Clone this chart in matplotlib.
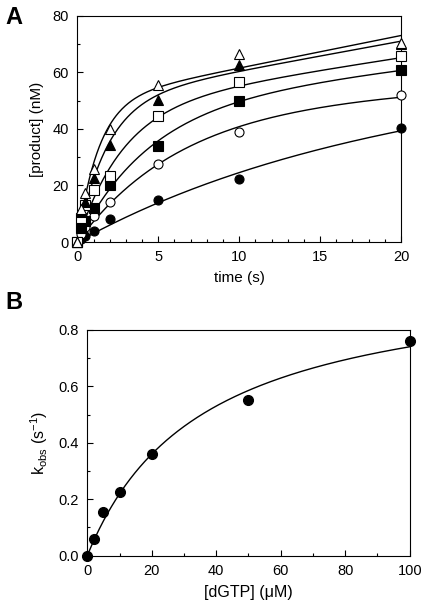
import numpy as np
import matplotlib.pyplot as plt
from matplotlib.ticker import MultipleLocator

plt.rcParams['font.family'] = ['Liberation Sans', 'DejaVu Sans']

# Panel A: product formation time courses at six dGTP concentrations
time_s = [0, 0.25, 0.5, 1, 2, 5, 10, 20]
prod_2uM = [0, 1.2, 2.2, 3.9, 8.2, 15.0, 22.3, 40.2]
prod_5uM = [0, 3.0, 5.5, 9.1, 14.1, 27.7, 39.0, 51.9]
prod_10uM = [0, 5.0, 7.5, 12.2, 20.3, 33.8, 50.0, 60.8]
prod_20uM = [0, 8.5, 13.0, 18.5, 23.5, 44.7, 56.7, 65.8]
prod_50uM = [0, 10.7, 14.2, 22.8, 34.3, 50.3, 62.5, 70.0]
prod_100uM = [0, 11.8, 17.4, 25.9, 40.0, 55.6, 66.4, 70.3]

# burst fit parameters per curve (amplitude nM, steady-state rate nM/s)
burst_amp = [48, 49, 48.2, 47.6, 50, 50]
steady_rate = [0.29, 0.22, 0.65, 0.88, 1.05, 1.15]

# Panel B: observed burst rate vs dGTP
dgtp_uM = [0, 2, 5, 10, 20, 50, 100]
kobs = [0, 0.06, 0.155, 0.225, 0.36, 0.55, 0.76]
kpol = 1.006
kd = 35.9

fig = plt.figure(figsize=(4.25, 6.16), dpi=100)
axA = fig.add_axes([0.182, 0.607, 0.7615, 0.3675])
axB = fig.add_axes([0.2054, 0.098, 0.7586, 0.3664])

series = [prod_2uM, prod_5uM, prod_10uM, prod_20uM, prod_50uM, prod_100uM]
markers = ['o', 'o', 's', 's', '^', '^']
fills = ['black', 'white', 'black', 'white', 'black', 'white']
k_curves = kobs[1:]

tt = np.linspace(0, 20, 400)
for A, v, k in zip(burst_amp, steady_rate, k_curves):
    axA.plot(tt, A * (1 - np.exp(-k * tt)) + v * tt, color='black', lw=1)
for y, m, fc in zip(series, markers, fills):
    axA.plot(time_s, y, ls='none', marker=m, ms=6.5, mfc=fc, mec='black',
             mew=0.8, clip_on=False, zorder=3)

axA.set_xlim(0, 20)
axA.set_ylim(0, 80)
axA.xaxis.set_major_locator(MultipleLocator(5))
axA.xaxis.set_minor_locator(MultipleLocator(1))
axA.yaxis.set_major_locator(MultipleLocator(20))
axA.yaxis.set_minor_locator(MultipleLocator(10))
axA.set_xlabel('time (s)', fontsize=11, labelpad=5)
axA.set_ylabel('[product] (nM)', fontsize=11, labelpad=6)

# Panel B
ss = np.linspace(0, 100, 400)
axB.plot(ss, kpol * ss / (kd + ss), color='black', lw=1)
axB.plot(dgtp_uM, kobs, ls='none', marker='o', ms=7, color='black',
         clip_on=False, zorder=3)
axB.set_xlim(0, 100)
axB.set_ylim(0, 0.8)
axB.xaxis.set_major_locator(MultipleLocator(20))
axB.xaxis.set_minor_locator(MultipleLocator(10))
axB.yaxis.set_major_locator(MultipleLocator(0.2))
axB.yaxis.set_minor_locator(MultipleLocator(0.1))
axB.set_xlabel('[dGTP] (\u03bcM)', fontsize=11.5, labelpad=5)
axB.set_ylabel('k$_{\\mathregular{obs}}$ (s$^{\\mathregular{-1}}$)', fontsize=11.5, labelpad=6)

for ax in (axA, axB):
    ax.tick_params(which='both', direction='in', labelsize=10.5, width=0.8)
    ax.tick_params(which='major', length=4, pad=6)
    ax.tick_params(which='minor', length=2.5)
    for sp in ax.spines.values():
        sp.set_linewidth(0.8)

fig.text(0.012, 0.99, 'A', fontsize=17, fontweight='bold', va='top', ha='left')
fig.text(0.012, 0.528, 'B', fontsize=17, fontweight='bold', va='top', ha='left')

fig.savefig('out.png', dpi=100)
